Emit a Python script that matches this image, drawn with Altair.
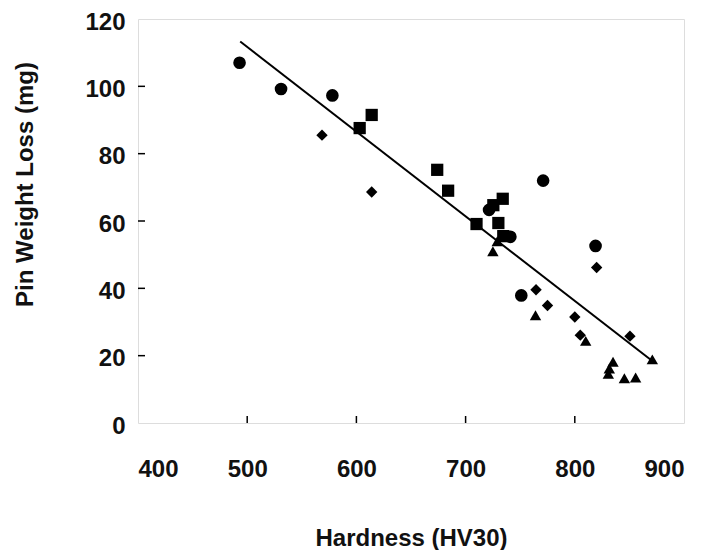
import altair as alt
import pandas as pd

# Data
circle_x = [493, 531, 578, 721.5, 741, 771, 819, 751]
circle_y = [107, 99.2, 97.3, 63.3, 55.3, 72, 52.6, 37.9]

square_x = [603, 614, 674, 684, 734, 725.4, 710, 730, 734.5]
square_y = [87.6, 91.5, 75.2, 69, 66.6, 64.7, 59.1, 59.4, 55.5]

diamond_x = [568.5, 614, 820, 764.5, 775, 800, 805, 850.5]
diamond_y = [85.5, 68.6, 46.2, 39.6, 34.9, 31.5, 26.1, 25.8]

triangle_x = [725, 729, 764, 810, 835, 831.6, 830.7, 845.4, 855.7, 871]
triangle_y = [51, 54, 32, 24.4, 18.2, 16.2, 14.6, 13.3, 13.5, 18.9]

fit_x = [493.6, 871]
fit_y = [113.3, 18.4]

x_ticks = [400, 500, 600, 700, 800, 900]
y_ticks = [0, 20, 40, 60, 80, 100, 120]
x_inner_ticks = [500, 600, 700, 800]
y_inner_ticks = [20, 40, 60, 80, 100]

W, H = 546, 404
FONT = "Liberation Sans"
INK = "#111111"
WEIGHT = "bold"

xscale = alt.Scale(domain=[400, 900], nice=False, zero=False)
yscale = alt.Scale(domain=[0, 120], nice=False)

xaxis = alt.Axis(values=x_ticks, tickSize=0, domain=False, grid=False,
                 labelFontSize=24, labelFont=FONT, labelColor=INK,
                 labelFontWeight=WEIGHT,
                 labelPadding=34, labelBaseline="top",
                 title="Hardness (HV30)", titleFontSize=24, titleFont=FONT,
                 titleFontWeight=WEIGHT, titleColor=INK,
                 titleY=115, titleBaseline="middle")
yaxis = alt.Axis(values=y_ticks, tickSize=0, domain=False, grid=False,
                 labelFontSize=24, labelFont=FONT, labelColor=INK,
                 labelFontWeight=WEIGHT,
                 labelPadding=13, labelOffset=3,
                 title="Pin Weight Loss (mg)", titleFontSize=24, titleFont=FONT,
                 titleFontWeight=WEIGHT, titleColor=INK,
                 titleX=-113, titleY=165, titleAngle=-90,
                 titleAlign="center", titleBaseline="middle")

def pts(xs, ys, shape, size):
    df = pd.DataFrame({"x": xs, "y": ys})
    return alt.Chart(df).mark_point(shape=shape, filled=True, color="black",
                                    opacity=1, size=size).encode(
        x=alt.X("x:Q", scale=xscale, axis=xaxis),
        y=alt.Y("y:Q", scale=yscale, axis=yaxis),
    )

line = alt.Chart(pd.DataFrame({"x": fit_x, "y": fit_y})).mark_line(
    color="black", strokeWidth=2).encode(
    x=alt.X("x:Q", scale=xscale, axis=xaxis),
    y=alt.Y("y:Q", scale=yscale, axis=yaxis),
)

ytick_layer = alt.Chart(pd.DataFrame({"v": y_inner_ticks})).mark_rule(
    color="black", strokeWidth=1.5).encode(
    y=alt.Y("v:Q", scale=yscale, axis=yaxis),
    x=alt.value(0), x2=alt.value(7),
)
xtick_layer = alt.Chart(pd.DataFrame({"v": x_inner_ticks})).mark_rule(
    color="black", strokeWidth=1.5).encode(
    x=alt.X("v:Q", scale=xscale, axis=xaxis),
    y=alt.value(H - 7), y2=alt.value(H),
)

chart = alt.layer(
    ytick_layer, xtick_layer, line,
    pts(circle_x, circle_y, "circle", 160),
    pts(square_x, square_y, "square", 150),
    pts(diamond_x, diamond_y, "diamond", 130),
    pts(triangle_x, triangle_y, "triangle-up", 130),
).properties(
    width=W, height=H,
    autosize=alt.AutoSizeParams(type="none"),
    padding={"left": 130, "top": 11, "right": 18, "bottom": 127},
).configure_view(
    stroke="black", strokeWidth=1.8
).configure(background="white")

chart.save("out.html", embed_options={"renderer": "svg", "actions": False})
